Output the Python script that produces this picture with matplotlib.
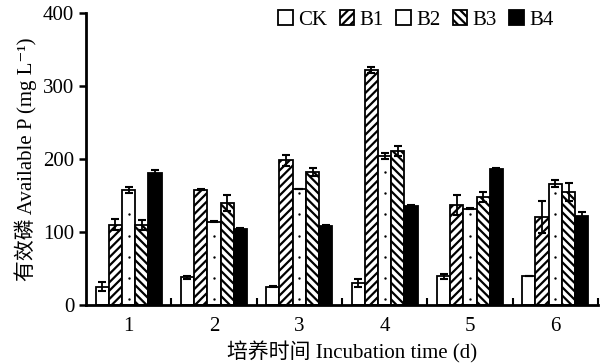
import numpy as np
import matplotlib
matplotlib.use("Agg")
import matplotlib.pyplot as plt

plt.rcParams['font.family'] = ['Liberation Serif', 'Noto Sans CJK SC', 'DejaVu Serif']
plt.rcParams['hatch.linewidth'] = 1.6

days = [1, 2, 3, 4, 5, 6]
series = ['CK', 'B1', 'B2', 'B3', 'B4']
CK = [25, 38, 25, 30, 39, 39]
B1 = [110, 158, 198, 322, 137, 121]
B2 = [157, 114, 159, 204, 132, 166]
B3 = [110, 140, 182, 211, 148, 155]
B4 = [181, 104, 108, 136, 186, 122]
CK_err = [6, 2, 1, 6, 4, 0]
B1_err = [8, 1, 7, 4, 14, 22]
B2_err = [4, 1, 0, 4, 1, 5]
B3_err = [7, 11, 5, 7, 7, 12]
B4_err = [4, 1, 1, 1, 2, 6]

values = [CK, B1, B2, B3, B4]
errors = [CK_err, B1_err, B2_err, B3_err, B4_err]
faces = ['white', 'white', 'white', 'white', 'black']
hatches = [None, '////', None, '\\\\\\\\', None]

fig = plt.figure(figsize=(6.01, 3.63), dpi=100)
ax = fig.add_axes([0.143, 0.160, 0.852, 0.804])

x = np.arange(len(days)) + 1
w = 0.155
handles = []
for i, (vals, errs) in enumerate(zip(values, errors)):
    pos = x + (i - 2) * w
    b = ax.bar(pos, vals, w, color=faces[i], edgecolor='black', linewidth=1.3,
               hatch=hatches[i], zorder=2)
    ax.errorbar(pos, vals, yerr=errs, fmt='none', ecolor='black',
                elinewidth=1.3, capsize=3.2, capthick=1.5, zorder=3)
    handles.append(b)
    if series[i] == 'B2':
        for p, v in zip(pos, vals):
            ys = np.arange(8, v - 4, 29)
            ax.scatter(np.full(len(ys), p), ys, s=3, color='black', zorder=3,
                       linewidths=0)

ax.set_xlim(0.5, 6.5)
ax.set_ylim(0, 400)
ax.set_yticks([0, 100, 200, 300, 400])
ax.set_xticks(x)
ax.set_xticklabels([str(d) for d in days])
ax.set_xticks(np.arange(1.5, 7.0, 1.0), minor=True)
ax.tick_params(axis='x', which='major', length=0, labelsize=15, pad=9)
ax.tick_params(axis='x', which='minor', direction='in', length=5, width=1.5)
ax.tick_params(axis='y', direction='out', length=5, width=1.8, labelsize=15)
for s in ['top', 'right']:
    ax.spines[s].set_visible(False)
for s in ['left', 'bottom']:
    ax.spines[s].set_linewidth(2)

ax.set_ylabel('有效磷 Available P (mg L\u207b\u00b9)', fontsize=15, labelpad=4)
ax.set_xlabel('培养时间 Incubation time (d)', fontsize=15, labelpad=3)
ax.xaxis.set_label_coords(0.52, -0.125)

ax.legend(handles, series, ncol=5, frameon=False, loc='upper right',
          bbox_to_anchor=(0.95, 1.075), fontsize=15, handlelength=0.7,
          handleheight=0.7, handletextpad=0.25, columnspacing=0.6)

fig.savefig('out.png', dpi=100)
